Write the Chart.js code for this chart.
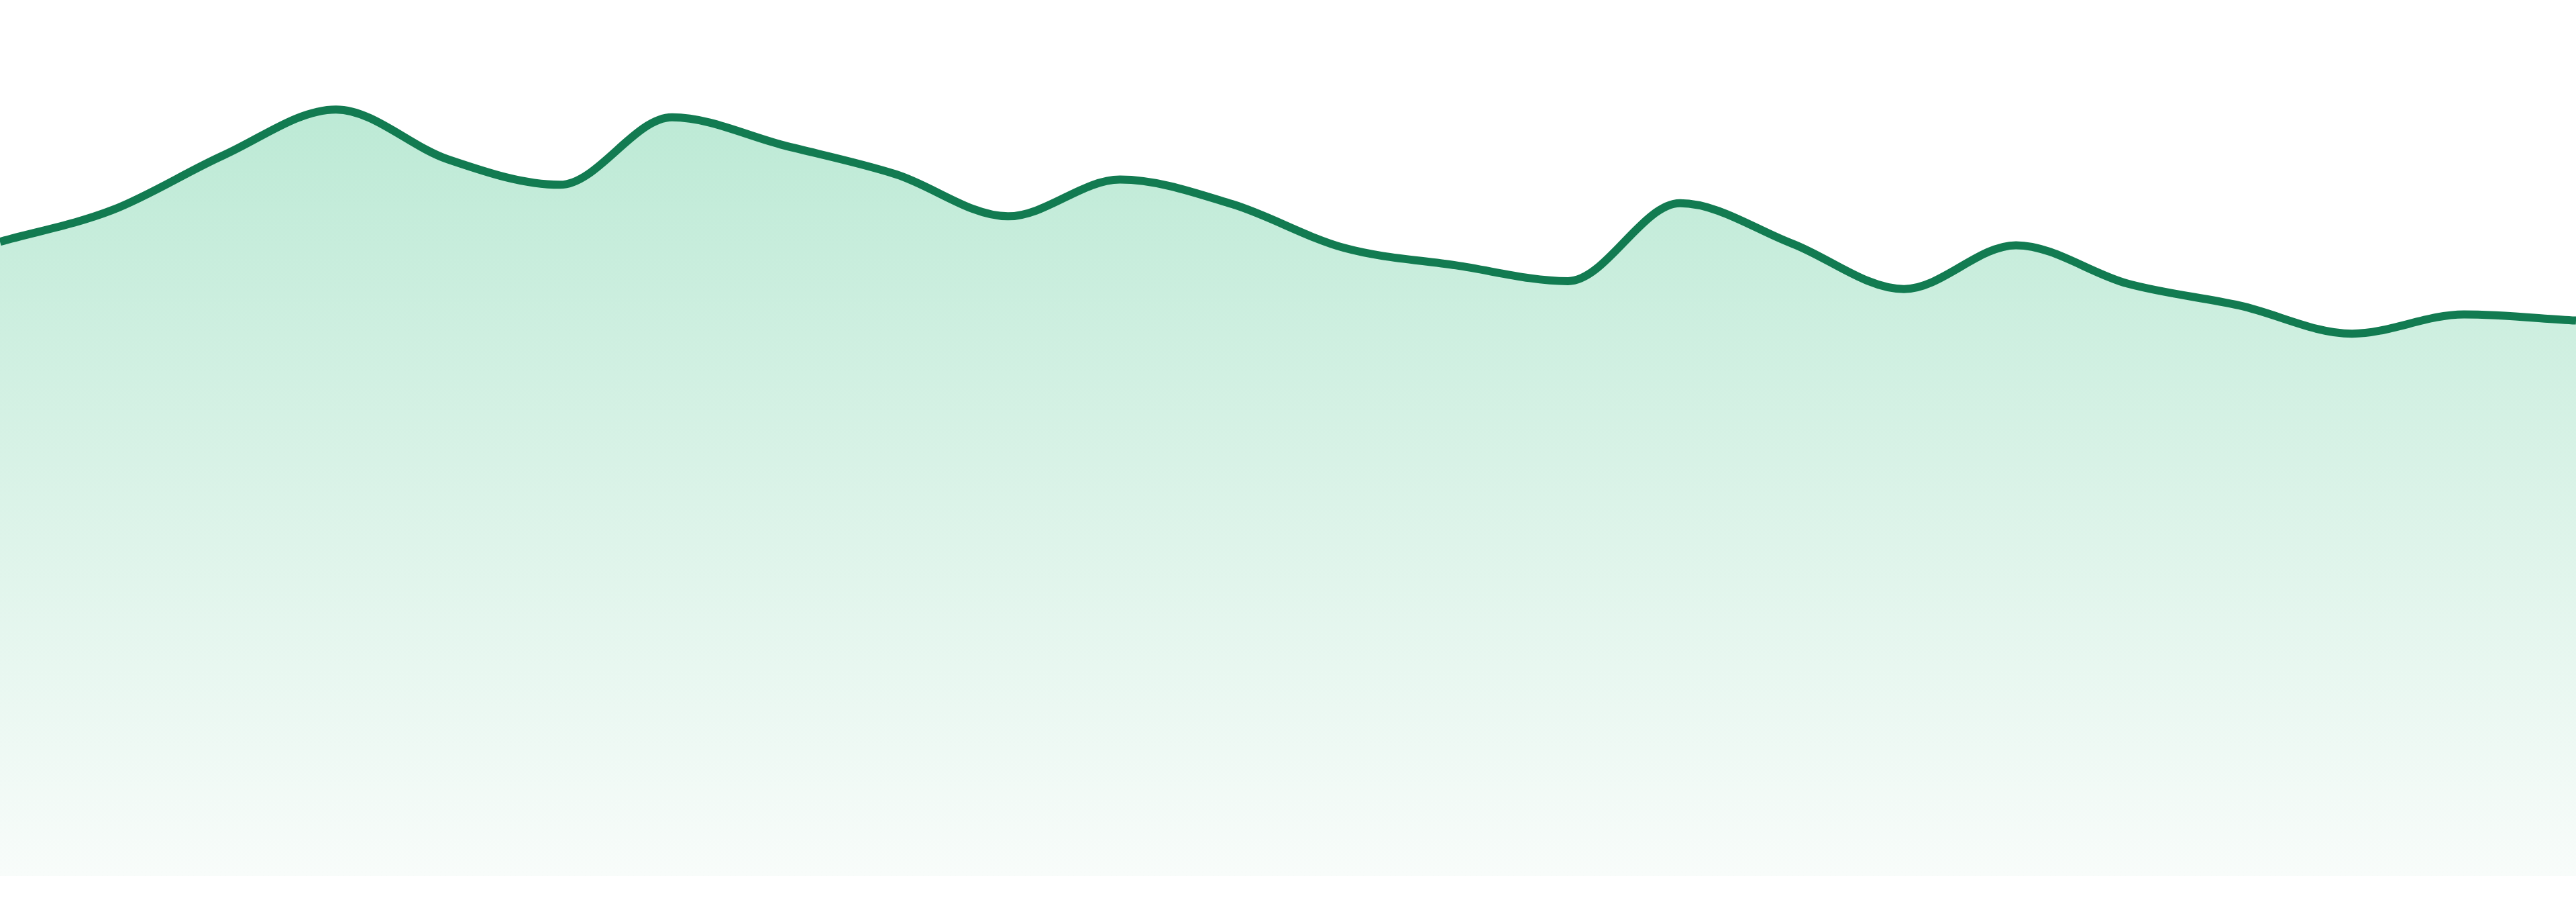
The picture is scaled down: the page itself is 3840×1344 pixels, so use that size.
<!DOCTYPE html>
<html>
<head>
<meta charset="utf-8">
<title>Area chart</title>
<script src="https://cdn.jsdelivr.net/npm/chart.js@4.4.1/dist/chart.umd.min.js"></script>
<style>
    html, body { margin: 0; padding: 0; background: #fff; overflow: hidden; }
    #wrap { width: 3840px; height: 1344px; background: #fff; }
    #areaChart { display: block; width: 3840px; height: 1305px; }
</style>
</head>
<body>
<div id="wrap"><canvas id="areaChart" width="3840" height="1305"></canvas></div>
<script>
const labels = ['01', '02', '03', '04', '05', '06', '07', '08', '09', '10', '11', '12',
    '13', '14', '15', '16', '17', '18', '19', '20', '21', '22', '23', '24'];
const values = [72.4, 76.0, 82.3, 87.5, 81.8, 78.9, 86.6, 83.4, 80.1, 75.3, 79.5, 76.7,
    71.7, 69.7, 67.9, 76.8, 72.2, 67.0, 72.0, 67.6, 65.1, 61.9, 64.1, 63.4];
const yMin = 0;
const yMax = 100;

const lineColor = '#127b51';

// gradient runs from the top of the plot down to the baseline
function fillGradient(context) {
    const chart = context.chart;
    const area = chart.chartArea;
    if (!area) return 'rgb(187, 233, 212)';
    const g = chart.ctx.createLinearGradient(0, area.top, 0, area.bottom);
    g.addColorStop(0, 'rgb(180, 231, 208)');
    g.addColorStop(1, 'rgb(248, 252, 250)');
    return g;
}

document.addEventListener('DOMContentLoaded', function () {
    const ctx = document.getElementById('areaChart').getContext('2d');
    new Chart(ctx, {
        type: 'line',
        data: {
            labels: labels,
            datasets: [{
                data: values,
                borderColor: lineColor,
                borderWidth: 12,
                backgroundColor: fillGradient,
                fill: 'start',
                pointRadius: 0,
                cubicInterpolationMode: 'monotone'
            }]
        },
        options: {
            responsive: false,
            maintainAspectRatio: false,
            devicePixelRatio: 1,
            animation: false,
            layout: { padding: 0 },
            plugins: {
                legend: { display: false },
                tooltip: { enabled: false }
            },
            scales: {
                x: { display: false, offset: false },
                y: { display: false, min: yMin, max: yMax }
            }
        }
    });
});
</script>
</body>
</html>
